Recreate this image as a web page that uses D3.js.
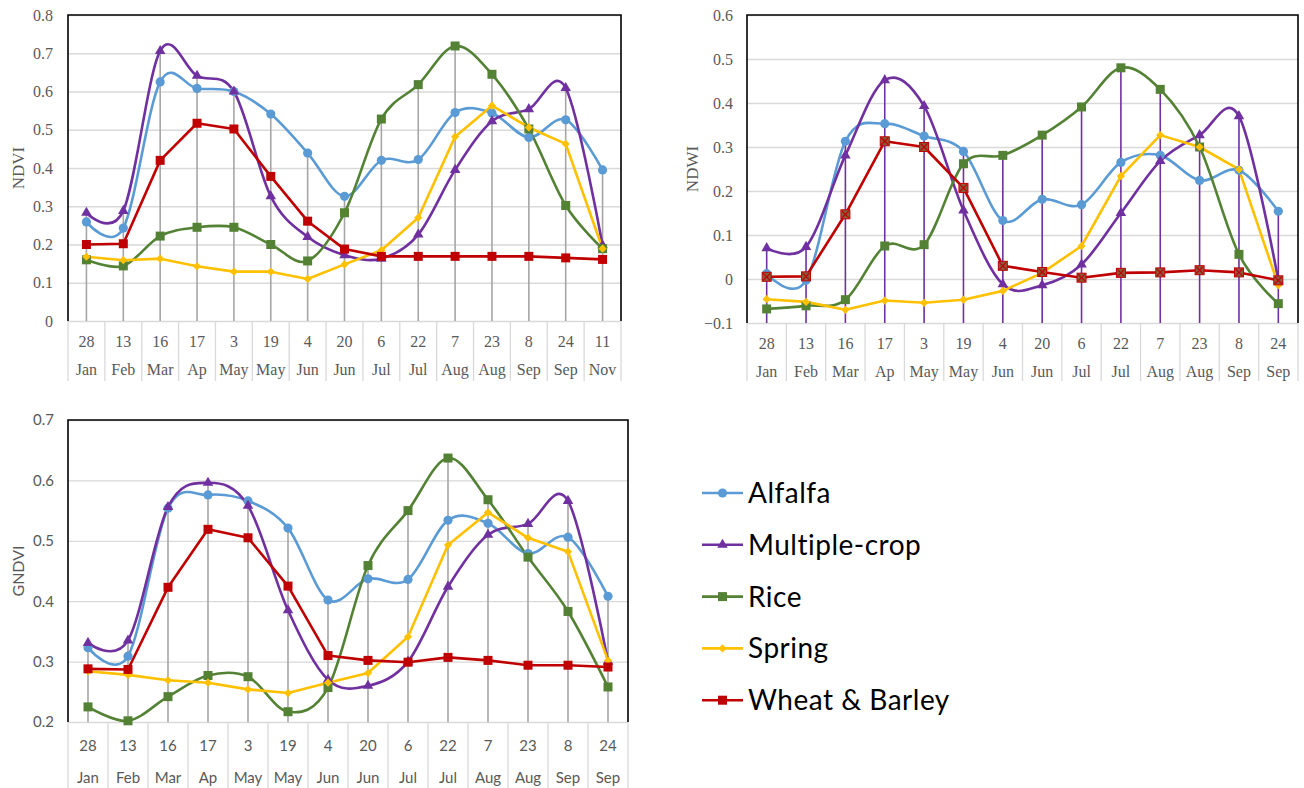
<!DOCTYPE html>
<html>
<head>
<meta charset="utf-8">
<script src="https://cdn.jsdelivr.net/npm/d3@7"></script>
<style>
  body { margin: 0; background: #fff; }
  svg { display: block; }
  .serif text { font-family: "Liberation Serif", "Times New Roman", Tinos, "DejaVu Serif", serif; }
  .sans text { font-family: Lato, "Open Sans", sans-serif; }
</style>
</head>
<body>
<svg id="chart" width="1304" height="788"></svg>
<script>
// category labels
const days15 = ["28", "13", "16", "17", "3", "19", "4", "20", "6", "22", "7", "23", "8", "24", "11"];
const months15 = ["Jan", "Feb", "Mar", "Ap", "May", "May", "Jun", "Jun", "Jul", "Jul", "Aug", "Aug", "Sep", "Sep", "Nov"];
const days14 = ["28", "13", "16", "17", "3", "19", "4", "20", "6", "22", "7", "23", "8", "24"];
const months14 = ["Jan", "Feb", "Mar", "Ap", "May", "May", "Jun", "Jun", "Jul", "Jul", "Aug", "Aug", "Sep", "Sep"];

const seriesNames = ["Alfalfa", "Multiple-crop", "Rice", "Spring", "Wheat & Barley"];

// NDVI
const ndviAlfalfa  = [0.259, 0.243, 0.625, 0.608, 0.600, 0.541, 0.439, 0.326, 0.420, 0.422, 0.545, 0.544, 0.480, 0.526, 0.395];
const ndviMultiple = [0.283, 0.288, 0.706, 0.641, 0.600, 0.326, 0.220, 0.172, 0.163, 0.226, 0.395, 0.522, 0.554, 0.609, 0.198];
const ndviRice     = [0.160, 0.144, 0.222, 0.245, 0.245, 0.200, 0.157, 0.283, 0.528, 0.618, 0.719, 0.645, 0.502, 0.302, 0.189];
const ndviSpring   = [0.168, 0.159, 0.163, 0.143, 0.129, 0.129, 0.110, 0.148, 0.185, 0.270, 0.482, 0.563, 0.506, 0.463, 0.189];
const ndviWheat    = [0.200, 0.202, 0.420, 0.517, 0.502, 0.378, 0.261, 0.188, 0.169, 0.169, 0.169, 0.169, 0.169, 0.165, 0.161];

// NDWI
const ndwiAlfalfa  = [0.012, -0.003, 0.313, 0.353, 0.325, 0.290, 0.133, 0.181, 0.169, 0.265, 0.281, 0.224, 0.247, 0.154];
const ndwiMultiple = [0.070, 0.073, 0.281, 0.452, 0.393, 0.156, -0.012, -0.014, 0.033, 0.150, 0.268, 0.327, 0.370, -0.003];
const ndwiRice     = [-0.068, -0.061, -0.047, 0.075, 0.078, 0.262, 0.281, 0.327, 0.391, 0.480, 0.431, 0.300, 0.056, -0.056];
const ndwiSpring   = [-0.046, -0.052, -0.070, -0.049, -0.054, -0.047, -0.027, 0.014, 0.075, 0.234, 0.327, 0.300, 0.249, -0.014];
const ndwiWheat    = [0.005, 0.006, 0.147, 0.313, 0.300, 0.207, 0.030, 0.016, 0.003, 0.014, 0.015, 0.020, 0.015, -0.003];

// GNDVI
const gndviAlfalfa  = [0.323, 0.309, 0.554, 0.576, 0.566, 0.521, 0.402, 0.437, 0.436, 0.534, 0.529, 0.479, 0.506, 0.408];
const gndviMultiple = [0.331, 0.335, 0.556, 0.596, 0.558, 0.385, 0.270, 0.260, 0.300, 0.424, 0.510, 0.528, 0.566, 0.300];
const gndviRice     = [0.225, 0.202, 0.242, 0.277, 0.275, 0.217, 0.257, 0.459, 0.550, 0.637, 0.568, 0.473, 0.383, 0.258];
const gndviSpring   = [0.284, 0.278, 0.269, 0.265, 0.254, 0.248, 0.265, 0.281, 0.341, 0.493, 0.547, 0.505, 0.482, 0.302];
const gndviWheat    = [0.288, 0.287, 0.423, 0.519, 0.505, 0.425, 0.310, 0.302, 0.299, 0.307, 0.302, 0.294, 0.294, 0.291];

const ndviTicks = [0, 0.1, 0.2, 0.3, 0.4, 0.5, 0.6, 0.7, 0.8];
const ndwiTicks = [-0.1, 0, 0.1, 0.2, 0.3, 0.4, 0.5, 0.6];
const gndviTicks = [0.2, 0.3, 0.4, 0.5, 0.6, 0.7];

const colors = ["#5B9BD5", "#7030A0", "#548235", "#FFC000", "#C00000"];
const markers = ["circle", "triangle", "square", "diamond", "square"];
const smooth = [true, true, true, false, false];

const svg = d3.select("#chart");

const tickFmt = d => d === 0 ? "0" : d3.format(".1f")(d);

function drawMarker(g, type, cx, cy, color, variant) {
  if (type === "circle") {
    g.append("circle").attr("cx", cx).attr("cy", cy).attr("r", 4.6).attr("fill", color);
  } else if (type === "triangle") {
    g.append("path").attr("transform", `translate(${cx},${cy})`)
      .attr("d", d3.symbol(d3.symbolTriangle, 48)()).attr("fill", color);
  } else if (type === "diamond") {
    g.append("path").attr("transform", `translate(${cx},${cy}) rotate(45)`)
      .attr("d", d3.symbol(d3.symbolSquare, 34)()).attr("fill", color);
  } else {
    const s = 9;
    g.append("rect").attr("x", cx - s / 2).attr("y", cy - s / 2).attr("width", s).attr("height", s)
      .attr("fill", variant === "x" ? "#8a5a3c" : color)
      .attr("stroke", variant === "x" ? "#C00000" : "none").attr("stroke-width", 1);
    if (variant === "x") {
      g.append("path").attr("d", `M${cx - 3.5},${cy - 3.5}L${cx + 3.5},${cy + 3.5}M${cx - 3.5},${cy + 3.5}L${cx + 3.5},${cy - 3.5}`)
        .attr("stroke", "#C00000").attr("stroke-width", 1.2);
    }
  }
}

function chart(o) {
  const n = o.days.length;
  const g = svg.append("g").attr("class", o.font);

  const x = d3.scaleBand().domain(d3.range(n)).range([o.left, o.right]);
  const y = d3.scaleLinear().domain(o.domain).range([o.bottom, o.top]);
  const cx = i => x(i) + x.bandwidth() / 2;

  // gridlines + tick labels
  g.append("g")
    .attr("transform", `translate(${o.left},0)`)
    .call(d3.axisLeft(y).tickValues(o.ticks).tickFormat(tickFmt).tickSize(-(o.right - o.left)).tickPadding(o.pad))
    .attr("font-family", null)
    .call(a => a.select(".domain").remove())
    .call(a => a.selectAll("line").attr("stroke", "#d9d9d9").attr("stroke-width", 1.3))
    .call(a => a.selectAll("text").attr("fill", "#595959").style("font-size", o.fs + "px"));

  // category separators
  g.append("g").selectAll("line").data(d3.range(n + 1)).enter().append("line")
    .attr("x1", i => o.left + i * x.step()).attr("x2", i => o.left + i * x.step())
    .attr("y1", o.bottom).attr("y2", o.axisBottom)
    .attr("stroke", "#d9d9d9").attr("stroke-width", 1.3);

  // category labels
  const lab = g.append("g").selectAll("g").data(d3.range(n)).enter().append("g")
    .attr("fill", "#595959").style("font-size", o.fs + "px")
    .attr("text-anchor", "middle");
  lab.append("text").attr("x", cx).attr("y", o.bottom + o.row1).text(i => o.days[i]);
  lab.append("text").attr("x", cx).attr("y", o.bottom + o.row2).text(i => o.months[i]);

  // drop lines
  g.append("g").selectAll("line").data(d3.range(n)).enter().append("line")
    .attr("x1", cx).attr("x2", cx)
    .attr("y1", i => y(d3.max(o.series, s => s[i]))).attr("y2", o.bottom)
    .attr("stroke", o.dropColor).attr("stroke-width", 1.6);

  // frame
  g.append("path")
    .attr("d", `M${o.left},${o.bottom}V${o.top}H${o.right}V${o.bottom}`)
    .attr("fill", "none").attr("stroke", "#000").attr("stroke-width", 1.6);

  // series lines
  o.series.forEach((s, k) => {
    const line = d3.line()
      .x((d, i) => cx(i)).y(d => y(d))
      .curve(smooth[k] ? d3.curveCatmullRom.alpha(0) : d3.curveLinear);
    g.append("path").datum(s).attr("d", line)
      .attr("fill", "none").attr("stroke", colors[k]).attr("stroke-width", 2.6)
      .attr("stroke-linejoin", "round");
  });
  o.series.forEach((s, k) => {
    const mg = g.append("g");
    s.forEach((d, i) => drawMarker(mg, markers[k], cx(i), y(d), colors[k], k === 4 ? o.wheatMarker : null));
  });

  // y title
  g.append("text")
    .attr("transform", `translate(${o.titleX},${(o.top + o.bottom) / 2}) rotate(-90)`)
    .attr("text-anchor", "middle").attr("dy", "0.35em").attr("fill", "#595959")
    .style("font-size", (o.fs + 1) + "px")
    .text(o.title);
}

chart({
  left: 68, right: 621, top: 15, bottom: 321, axisBottom: 381, row1: 26, row2: 54,
  domain: [0, 0.8], ticks: ndviTicks, days: days15, months: months15, pad: 15, fs: 16,
  series: [ndviAlfalfa, ndviMultiple, ndviRice, ndviSpring, ndviWheat],
  title: "NDVI", titleX: 18, font: "serif", dropColor: "#a6a6a6", wheatMarker: null
});

chart({
  left: 747, right: 1298, top: 15, bottom: 323, axisBottom: 381, row1: 26, row2: 54,
  domain: [-0.1, 0.6], ticks: ndwiTicks, days: days14, months: months14, pad: 14, fs: 16,
  series: [ndwiAlfalfa, ndwiMultiple, ndwiRice, ndwiSpring, ndwiWheat],
  title: "NDWI", titleX: 692, font: "serif", dropColor: "#7030A0", wheatMarker: "x"
});

chart({
  left: 68, right: 628, top: 420, bottom: 722, axisBottom: 788, row1: 29, row2: 61,
  domain: [0.2, 0.7], ticks: gndviTicks, days: days14, months: months14, pad: 14, fs: 15,
  series: [gndviAlfalfa, gndviMultiple, gndviRice, gndviSpring, gndviWheat],
  title: "GNDVI", titleX: 18, font: "sans", dropColor: "#a6a6a6", wheatMarker: null
});

// legend
const legend = svg.append("g").attr("class", "sans").selectAll("g").data(seriesNames).enter().append("g")
  .attr("transform", (d, i) => `translate(702,${493 + i * 51.8})`);
legend.append("line").attr("x1", 0).attr("x2", 41).attr("y1", 0).attr("y2", 0)
  .attr("stroke", (d, i) => colors[i]).attr("stroke-width", 2.6);
legend.each(function (d, i) { drawMarker(d3.select(this), markers[i], 20.5, 0, colors[i], null); });
legend.append("text").attr("x", 46).attr("y", 0).attr("dy", "0.36em")
  .style("font-size", "28px").style("letter-spacing", "0.5px").attr("fill", "#000")
  .text(d => d);
</script>
</body>
</html>
